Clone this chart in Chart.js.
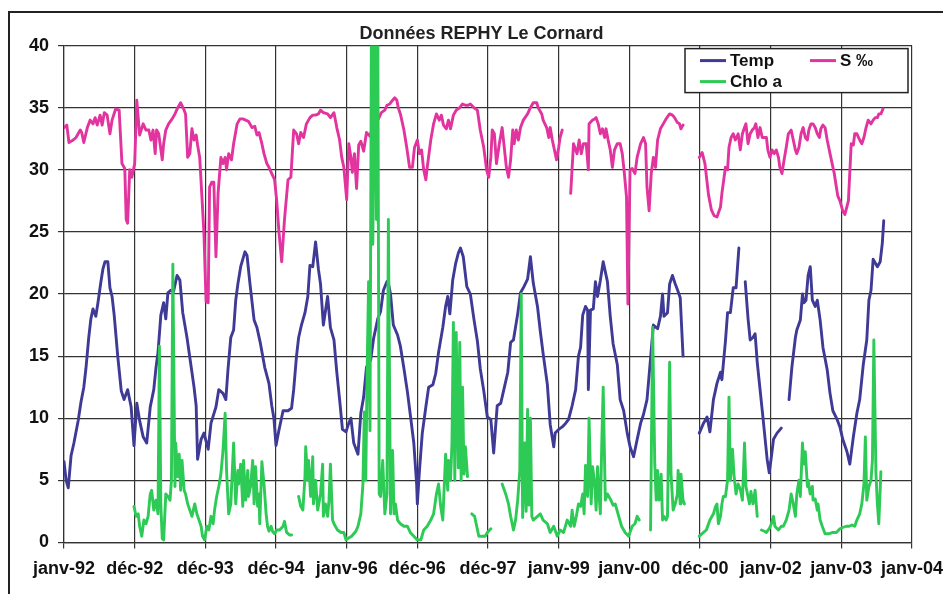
<!DOCTYPE html>
<html>
<head>
<meta charset="utf-8">
<script src="https://cdn.jsdelivr.net/npm/chart.js@4.4.1/dist/chart.umd.min.js"></script>
<style>
  html, body { margin: 0; padding: 0; background: #ffffff; }
  #wrap { width: 943px; height: 594px; }
</style>
</head>
<body>
<div id="wrap"><canvas id="chart" width="943" height="594"></canvas></div>
<script>
// ---- Chart text ----
const chartTitle = 'Données REPHY Le Cornard';
const xTickLabels = ['janv-92', 'déc-92', 'déc-93', 'déc-94', 'janv-96', 'déc-96', 'déc-97',
                     'janv-99', 'janv-00', 'déc-00', 'janv-02', 'janv-03', 'janv-04'];
const seriesNames = ['Temp', 'S ‰', 'Chlo a'];

// ---- Water temperature (°C); dates in decimal years, null = no sample ----
const tempDates = [1992.00,1992.03,1992.06,1992.10,1992.14,1992.20,1992.24,1992.28,1992.31,1992.35,1992.38,1992.41,1992.45,1992.48,1992.52,1992.55,1992.58,1992.62,1992.65,1992.68,1992.71,1992.76,1992.81,1992.85,1992.90,1992.95,1992.99,
  1993.03,1993.07,1993.12,1993.17,1993.22,1993.27,1993.30,1993.33,1993.37,1993.41,1993.44,1993.47,1993.51,1993.55,1993.60,1993.64,1993.68,1993.74,1993.80,1993.84,1993.87,1993.89,1993.94,1993.98,
  1994.04,1994.08,1994.15,1994.19,1994.25,1994.29,1994.32,1994.36,1994.40,1994.43,1994.46,1994.50,1994.56,1994.59,1994.63,1994.69,1994.73,1994.78,1994.84,1994.90,1994.94,1994.97,
  1995.00,1995.04,1995.10,1995.17,1995.22,1995.25,1995.29,1995.32,1995.36,1995.41,1995.45,1995.48,1995.52,1995.56,1995.60,1995.63,1995.67,1995.73,1995.77,1995.82,1995.86,1995.90,1995.94,1995.99,
  1996.03,1996.06,1996.10,1996.16,1996.20,1996.24,1996.28,1996.34,1996.38,1996.44,1996.48,1996.52,1996.57,1996.59,1996.62,1996.66,1996.72,1996.76,1996.81,1996.86,1996.90,1996.95,1996.99,
  1997.00,1997.03,1997.07,1997.12,1997.16,1997.22,1997.26,1997.30,1997.36,1997.40,1997.43,1997.46,1997.50,1997.54,1997.58,1997.61,1997.65,1997.70,1997.75,1997.80,1997.85,1997.89,1997.94,1997.99,
  1998.04,1998.08,1998.13,1998.18,1998.22,1998.28,1998.32,1998.36,1998.42,1998.46,1998.50,1998.56,1998.60,1998.64,1998.70,1998.74,1998.78,1998.84,1998.88,1998.93,1998.95,
  1999.00,1999.05,1999.10,1999.14,1999.19,1999.24,1999.28,1999.31,1999.34,1999.38,1999.41,1999.42,1999.45,1999.49,1999.52,1999.55,1999.59,1999.63,1999.69,1999.73,1999.77,1999.83,1999.87,1999.92,1999.97,
  2000.01,2000.06,2000.10,2000.16,2000.20,2000.25,2000.30,2000.34,2000.40,2000.44,2000.47,2000.49,2000.54,2000.57,2000.61,2000.65,2000.69,2000.72,2000.76,2000.88,2000.99,
  2001.05,2001.10,2001.14,2001.19,2001.24,2001.29,2001.31,2001.36,2001.39,2001.43,2001.47,2001.51,2001.55,2001.60,2001.64,2001.68,2001.71,2001.75,2001.78,2001.81,2001.85,2001.89,2001.95,2001.98,
  2002.01,2002.04,2002.09,2002.15,2002.20,2002.26,2002.30,2002.35,2002.37,2002.42,2002.45,2002.47,2002.50,2002.53,2002.56,2002.59,2002.63,2002.66,2002.70,2002.74,2002.80,2002.84,2002.88,2002.94,2002.98,
  2003.02,2003.08,2003.12,2003.17,2003.22,2003.26,2003.31,2003.36,2003.39,2003.42,2003.45,2003.51,2003.55,2003.58,2003.60];
const tempValues = [6.5,5.0,4.4,7.0,8.0,9.8,11.3,12.5,14.0,16.5,18.0,18.8,18.2,19.3,20.9,22.0,22.6,22.6,20.5,19.8,18.3,15.0,12.2,11.5,12.3,10.9,7.8,
  11.2,9.8,8.5,8.0,10.9,12.3,14.0,15.3,18.3,19.3,18.0,20.1,20.3,20.2,21.5,21.1,18.5,16.5,14.1,12.5,11.0,6.7,8.3,8.8,
  7.5,9.6,10.9,12.3,12.0,11.5,13.9,16.5,17.1,19.5,20.8,22.2,23.4,23.1,20.9,17.9,17.3,16.0,14.1,12.8,11.0,10.0,
  7.8,9.0,10.6,10.6,10.8,12.3,15.0,16.5,17.5,18.5,19.8,22.3,22.2,24.2,22.0,20.8,17.5,19.8,17.3,16.3,13.7,11.5,9.1,8.9,
  9.6,10.0,8.0,7.1,10.4,11.7,14.1,14.7,16.4,18.0,18.6,20.3,21.0,20.9,20.0,17.5,16.7,15.8,14.0,12.1,10.3,8.0,4.7,
  3.1,5.8,8.8,10.9,12.5,12.7,13.6,15.3,17.3,19.0,19.8,18.4,21.1,22.4,23.3,23.7,23.0,20.6,20.0,18.0,16.2,14.0,12.2,10.1,
  9.9,7.2,11.0,11.2,12.2,13.7,16.1,16.3,18.4,20.1,20.5,21.2,23.0,20.9,19.0,17.0,15.2,12.7,9.5,7.7,8.8,
  9.1,9.3,9.6,9.9,11.0,12.3,15.0,15.7,18.3,19.0,18.7,12.3,18.7,18.8,21.0,19.8,21.1,22.6,21.0,18.2,16.0,14.3,11.5,10.6,8.8,
  7.7,6.9,8.0,9.6,10.3,11.5,14.8,17.5,17.2,18.2,20.0,18.2,18.5,20.8,21.5,20.8,20.2,19.7,15.0,null,8.8,
  9.6,10.1,8.9,11.5,12.8,13.7,13.1,16.2,18.5,18.5,20.5,20.5,23.7,null,21.0,18.0,16.3,16.5,16.8,14.5,12.3,10.1,6.7,5.6,
  6.9,8.3,8.8,9.2,null,11.5,14.1,16.5,17.1,17.9,20.0,19.3,19.5,21.5,22.2,19.5,19.0,19.5,17.9,15.7,13.9,12.0,10.6,9.9,9.3,
  8.3,7.3,6.3,8.5,10.4,11.5,14.3,16.3,19.5,20.3,22.8,22.2,22.6,24.1,25.9];

// ---- Salinity (‰) ----
const salDates = [1992.00,1992.04,1992.07,1992.13,1992.17,1992.23,1992.25,1992.28,1992.33,1992.37,1992.41,1992.44,1992.47,1992.51,1992.54,1992.57,1992.61,1992.65,1992.68,1992.73,1992.78,1992.82,1992.86,1992.88,1992.90,1992.93,1992.96,
  1993.00,1993.03,1993.07,1993.12,1993.16,1993.20,1993.23,1993.26,1993.29,1993.31,1993.34,1993.39,1993.41,1993.44,1993.48,1993.53,1993.57,1993.61,1993.65,1993.70,1993.72,1993.75,1993.78,1993.81,1993.84,1993.87,1993.89,1993.92,1993.95,1993.98,
  1994.01,1994.04,1994.06,1994.09,1994.12,1994.15,1994.18,1994.22,1994.25,1994.28,1994.30,1994.33,1994.37,1994.40,1994.45,1994.49,1994.53,1994.57,1994.61,1994.66,1994.70,1994.73,1994.76,1994.80,1994.83,1994.87,1994.90,1994.94,1994.98,
  1995.01,1995.04,1995.08,1995.12,1995.17,1995.21,1995.25,1995.29,1995.32,1995.35,1995.39,1995.43,1995.48,1995.52,1995.56,1995.60,1995.63,1995.67,1995.73,1995.77,1995.82,1995.86,1995.90,1995.93,1995.96,
  1996.00,1996.03,1996.06,1996.08,1996.11,1996.14,1996.17,1996.20,1996.24,1996.28,1996.33,1996.37,1996.41,1996.45,1996.49,1996.54,1996.57,1996.61,1996.65,1996.68,1996.71,1996.73,1996.76,1996.81,1996.85,1996.89,1996.93,1996.96,
  1997.00,1997.03,1997.06,1997.09,1997.12,1997.14,1997.19,1997.23,1997.27,1997.31,1997.34,1997.37,1997.41,1997.44,1997.47,1997.51,1997.55,1997.60,1997.64,1997.68,1997.72,1997.75,1997.80,1997.85,1997.89,1997.94,1997.98,
  1998.01,1998.04,1998.06,1998.09,1998.12,1998.16,1998.20,1998.23,1998.26,1998.29,1998.32,1998.35,1998.37,1998.40,1998.43,1998.46,1998.50,1998.56,1998.60,1998.64,1998.69,1998.71,1998.76,1998.78,1998.83,1998.86,1998.88,1998.91,1998.94,1998.97,
  1999.00,1999.02,1999.05,1999.11,1999.17,1999.21,1999.26,1999.29,1999.32,1999.35,1999.39,1999.42,1999.43,1999.48,1999.51,1999.53,1999.56,1999.59,1999.62,1999.65,1999.67,1999.70,1999.73,1999.76,1999.79,1999.83,1999.87,1999.90,1999.93,1999.96,1999.98,
  2000.01,2000.04,2000.08,2000.11,2000.16,2000.20,2000.23,2000.25,2000.28,2000.31,2000.34,2000.37,2000.40,2000.44,2000.48,2000.52,2000.57,2000.61,2000.64,2000.68,2000.71,2000.73,2000.76,2000.88,2000.99,
  2001.03,2001.07,2001.12,2001.16,2001.20,2001.24,2001.29,2001.31,2001.36,2001.39,2001.41,2001.44,2001.47,2001.50,2001.54,2001.57,2001.60,2001.63,2001.65,2001.68,2001.71,2001.74,2001.77,2001.79,2001.82,2001.85,2001.88,2001.91,2001.94,2001.96,2001.99,
  2002.02,2002.05,2002.08,2002.11,2002.13,2002.16,2002.19,2002.22,2002.25,2002.29,2002.32,2002.35,2002.37,2002.40,2002.43,2002.46,2002.49,2002.52,2002.54,2002.57,2002.60,2002.63,2002.66,2002.69,2002.71,2002.74,2002.77,2002.80,2002.84,2002.87,2002.90,2002.93,2002.95,2002.98,
  2003.02,2003.05,2003.10,2003.14,2003.17,2003.19,2003.22,2003.26,2003.29,2003.32,2003.35,2003.38,2003.42,2003.45,2003.48,2003.51,2003.53,2003.56,2003.59];
const salValues = [33.4,33.6,32.2,32.4,32.6,33.2,33.0,32.2,33.4,34.0,33.7,34.2,33.6,34.4,33.6,34.6,34.4,32.9,34.0,34.9,34.8,30.5,30.1,26.0,25.7,30.0,29.4,
  30.5,35.6,32.8,33.7,33.2,33.2,32.4,33.2,31.3,33.2,32.9,30.8,32.1,33.2,33.7,34.1,34.5,35.0,35.4,34.8,34.5,31.0,31.3,33.3,32.4,32.8,32.0,31.0,28.0,24.9,
  19.4,19.3,28.6,29.0,29.0,23.0,28.1,31.0,30.5,31.0,30.0,31.3,30.8,32.1,33.7,34.1,34.1,34.0,33.9,33.4,33.5,32.8,33.0,32.1,31.3,30.5,30.2,29.7,29.2,
  27.5,25.1,22.6,26.0,29.2,29.4,33.2,32.9,32.1,33.0,32.6,33.7,34.2,34.4,34.4,34.5,34.8,34.6,34.5,34.2,34.6,33.4,32.4,31.0,30.2,
  27.6,32.1,31.0,29.8,31.3,28.5,32.0,32.3,31.5,33.0,32.7,33.5,33.8,34.1,34.6,34.8,35.2,35.3,35.6,35.8,35.6,35.0,34.5,33.2,31.8,30.2,30.2,31.8,
  32.4,31.3,31.6,30.0,29.2,30.2,32.4,33.7,34.5,34.0,34.4,33.6,33.3,34.0,33.3,34.4,34.8,35.0,35.3,35.2,35.2,35.3,35.0,34.8,33.2,31.8,30.0,
  29.4,31.0,33.2,32.9,30.5,32.1,33.4,31.8,30.2,29.4,30.8,33.2,32.1,33.2,32.4,33.4,34.0,34.5,35.0,35.4,35.4,35.0,34.5,34.0,33.4,32.6,33.4,32.4,31.6,30.8,
  31.8,32.6,33.2,null,28.1,32.1,31.3,32.4,31.3,32.1,32.1,30.0,33.7,34.0,34.1,34.2,33.7,32.9,33.3,32.6,33.3,32.4,31.6,30.2,31.6,32.1,32.1,31.3,29.7,27.8,19.2,
  30.0,30.1,29.7,31.0,32.1,32.6,32.1,28.6,26.7,29.7,31.0,30.2,32.4,33.3,33.7,34.1,34.5,34.4,34.2,33.8,33.7,33.3,33.6,null,31.0,
  31.4,30.5,28.0,26.8,26.3,26.2,27.0,28.1,30.2,30.0,31.8,32.6,32.9,32.4,32.9,31.6,32.9,33.4,33.7,32.1,32.9,33.2,33.4,33.7,32.6,33.4,32.6,32.6,32.6,31.6,31.0,
  31.6,31.3,31.6,31.0,30.2,29.7,30.8,31.8,32.9,33.2,32.4,31.6,31.3,31.8,32.9,33.4,32.6,32.4,33.2,33.7,33.7,33.4,32.9,32.6,33.3,33.6,33.4,32.4,31.3,30.5,29.7,28.6,27.9,27.5,
  26.7,26.4,27.5,32.1,32.0,32.9,32.9,32.4,32.1,32.6,33.4,34.0,33.7,34.0,34.2,34.2,34.5,34.5,34.9];

// ---- Chlorophyll a (µg/l) ----
const chloDates = [1992.99,1993.02,1993.05,1993.07,1993.10,1993.13,1993.16,1993.19,1993.22,1993.24,1993.27,1993.30,1993.33,1993.35,1993.37,1993.39,1993.41,1993.44,1993.47,1993.50,1993.52,1993.54,1993.57,1993.58,1993.61,1993.63,1993.65,1993.67,1993.70,1993.72,1993.75,1993.78,1993.81,1993.85,1993.88,1993.91,1993.94,1993.96,1993.99,
  1994.02,1994.05,1994.08,1994.11,1994.13,1994.16,1994.19,1994.22,1994.25,1994.28,1994.30,1994.33,1994.36,1994.40,1994.43,1994.46,1994.47,1994.50,1994.53,1994.54,1994.57,1994.60,1994.61,1994.64,1994.67,1994.69,1994.71,1994.74,1994.76,1994.77,1994.80,1994.83,1994.86,1994.88,1994.90,1994.93,1994.95,1994.98,
  1995.01,1995.05,1995.10,1995.12,1995.15,1995.19,1995.22,1995.27,1995.32,1995.35,1995.38,1995.41,1995.42,1995.45,1995.46,1995.49,1995.52,1995.53,1995.56,1995.59,1995.63,1995.66,1995.67,1995.70,1995.73,1995.75,1995.77,1995.80,1995.82,1995.87,1995.92,1995.96,1995.99,
  1996.01,1996.07,1996.13,1996.16,1996.20,1996.23,1996.25,1996.27,1996.29,1996.31,1996.33,1996.35,1996.37,1996.40,1996.42,1996.44,1996.46,1996.48,1996.51,1996.54,1996.57,1996.59,1996.62,1996.65,1996.67,1996.69,1996.72,1996.76,1996.81,1996.86,1996.90,1996.95,
  1997.00,1997.05,1997.09,1997.14,1997.19,1997.23,1997.27,1997.30,1997.33,1997.36,1997.37,1997.40,1997.43,1997.44,1997.47,1997.49,1997.51,1997.53,1997.55,1997.58,1997.60,1997.62,1997.64,1997.66,1997.68,1997.71,1997.74,1997.77,1997.81,1997.84,1997.87,1997.92,1997.96,1997.99,
  1998.04,1998.12,1998.20,1998.25,1998.29,1998.32,1998.36,1998.39,1998.42,1998.45,1998.47,1998.49,1998.52,1998.54,1998.56,1998.58,1998.60,1998.62,1998.64,1998.70,1998.74,1998.78,1998.84,1998.88,1998.93,1998.98,
  1999.02,1999.07,1999.12,1999.17,1999.19,1999.22,1999.25,1999.28,1999.31,1999.34,1999.36,1999.38,1999.41,1999.43,1999.46,1999.48,1999.51,1999.53,1999.55,1999.57,1999.59,1999.61,1999.63,1999.66,1999.69,1999.73,1999.77,1999.80,1999.84,1999.89,1999.94,1999.99,
  2000.04,2000.08,2000.11,2000.14,2000.22,2000.30,2000.33,2000.36,2000.38,2000.40,2000.42,2000.45,2000.47,2000.49,2000.52,2000.54,2000.57,2000.59,2000.62,2000.65,2000.68,2000.69,2000.72,2000.73,2000.76,2000.78,2000.88,2000.99,
  2001.05,2001.09,2001.14,2001.19,2001.22,2001.24,2001.26,2001.29,2001.31,2001.33,2001.36,2001.39,2001.41,2001.43,2001.46,2001.48,2001.51,2001.54,2001.57,2001.60,2001.63,2001.65,2001.70,2001.72,2001.75,2001.78,2001.81,2001.84,2001.87,2001.91,2001.94,2001.98,
  2002.01,2002.04,2002.06,2002.11,2002.15,2002.18,2002.22,2002.26,2002.29,2002.32,2002.35,2002.37,2002.40,2002.42,2002.45,2002.47,2002.49,2002.52,2002.53,2002.56,2002.59,2002.60,2002.63,2002.66,2002.67,2002.70,2002.73,2002.77,2002.83,2002.88,2002.93,2002.98,
  2003.02,2003.07,2003.11,2003.15,2003.19,2003.22,2003.26,2003.29,2003.32,2003.34,2003.36,2003.39,2003.42,2003.44,2003.46,2003.49,2003.51,2003.53,2003.56];
const chloValues = [2.9,2.1,2.3,1.3,0.5,1.8,1.5,2.1,3.9,4.2,2.6,3.4,2.3,15.8,3.0,0.3,0.2,3.9,3.7,3.4,5.0,22.4,4.5,8.0,5.3,7.1,4.2,6.6,4.2,3.9,3.1,2.6,2.1,3.1,2.3,1.8,1.3,0.5,0.2,
  1.3,1.0,2.1,1.5,2.6,3.7,4.5,5.5,7.4,10.4,5.8,2.3,3.1,8.0,3.1,5.8,4.7,6.3,2.9,6.6,3.4,5.8,3.7,4.5,6.6,3.1,6.1,2.9,3.9,1.5,6.5,4.7,2.3,1.3,0.9,1.3,0.9,0.7,
  1.0,1.0,1.3,1.7,0.8,0.6,0.6,null,3.7,2.9,2.6,5.3,7.7,5.0,6.6,3.7,6.9,3.1,5.0,2.6,3.9,6.3,2.1,3.1,2.1,3.4,6.3,1.8,1.5,1.0,0.8,0.8,0.2,
  0.3,0.5,0.9,1.3,2.3,4.7,10.5,5.0,14.0,21.0,9.0,42.0,24.0,45.0,26.0,42.0,3.9,3.7,6.6,2.3,3.9,26.0,2.3,7.4,2.3,3.1,1.8,1.5,1.3,1.3,0.8,0.5,
  0.2,0.2,1.0,1.3,1.8,2.3,3.9,4.7,2.9,1.8,3.1,7.1,4.2,6.6,5.0,8.0,17.7,5.0,16.9,6.0,16.1,5.0,12.5,5.5,7.7,5.3,null,2.3,2.1,1.3,0.5,0.5,0.5,0.8,
  1.1,null,4.7,3.9,3.1,2.1,1.0,1.8,3.4,5.8,20.0,2.0,8.0,2.5,10.7,3.0,10.0,2.1,1.8,2.1,2.3,1.8,1.5,0.8,1.3,0.5,
  1.0,0.8,1.8,1.3,2.6,1.3,2.1,3.1,2.9,3.9,2.3,6.2,3.7,10.0,3.1,6.1,4.7,2.6,6.1,3.9,2.3,8.0,12.5,3.4,3.9,3.5,3.0,3.1,2.3,1.3,0.8,0.5,
  1.3,1.5,2.1,1.8,null,1.0,17.3,6.3,3.4,5.8,3.4,5.5,1.8,2.1,1.8,2.1,14.5,5.5,2.6,3.1,3.9,5.8,3.1,5.5,3.4,3.1,null,0.5,
  0.8,1.0,1.8,2.3,2.9,3.1,1.5,2.1,3.1,3.7,3.7,5.0,11.7,5.0,7.5,5.5,3.9,4.7,4.3,3.4,8.0,4.5,3.1,4.1,3.1,4.2,2.1,null,1.0,0.9,0.8,1.1,
  1.5,2.1,1.3,1.0,1.3,1.3,1.8,2.6,3.9,3.1,2.1,3.9,5.0,3.7,8.0,6.3,7.3,4.5,5.0,3.9,4.5,3.4,3.5,2.6,3.1,1.8,1.3,0.7,0.7,0.8,0.8,1.1,
  1.2,1.3,1.3,1.4,1.3,1.8,2.3,3.1,4.7,8.5,3.4,4.5,5.0,6.6,16.3,5.5,3.1,1.5,5.7];

// ---- Colours ----
const seriesColors = ['#3e3a96', '#e2349e', '#2dca55'];

const FONT = "'Liberation Sans', Arial, Helvetica, sans-serif";

function toPoints(dates, values) {
  return dates.map((d, i) => ({ x: d, y: values[i] }));
}

// White background and the outer frame of the chart object
const framePlugin = {
  id: 'frame',
  beforeDraw(chart) {
    const ctx = chart.ctx;
    ctx.save();
    ctx.fillStyle = '#ffffff';
    ctx.fillRect(0, 0, chart.width, chart.height);
    ctx.strokeStyle = '#222222';
    ctx.lineWidth = 2;
    ctx.strokeRect(9, 12, chart.width + 50, chart.height + 50);
    ctx.restore();
  }
};

// Boxed legend placed in the upper right corner of the plot
const boxLegendPlugin = {
  id: 'boxLegend',
  afterDraw(chart) {
    const ctx = chart.ctx;
    const area = chart.chartArea;
    const w = 223, h = 44;
    const left = area.right - 4 - w;
    const top = area.top + 3;
    ctx.save();
    ctx.fillStyle = '#ffffff';
    ctx.fillRect(left, top, w, h);
    ctx.strokeStyle = '#222222';
    ctx.lineWidth = 1.5;
    ctx.strokeRect(left, top, w, h);
    const slots = [
      { dx: 15, dy: 12 },   // first column, first row
      { dx: 125, dy: 12 },  // second column, first row
      { dx: 15, dy: 33 }    // first column, second row
    ];
    ctx.font = 'bold 17px ' + FONT;
    ctx.textBaseline = 'middle';
    ctx.textAlign = 'left';
    chart.data.datasets.forEach((ds, i) => {
      const s = slots[i];
      const y = top + s.dy;
      ctx.strokeStyle = ds.borderColor;
      ctx.lineWidth = 3;
      ctx.beginPath();
      ctx.moveTo(left + s.dx, y);
      ctx.lineTo(left + s.dx + 26, y);
      ctx.stroke();
      ctx.fillStyle = '#111111';
      ctx.fillText(ds.label, left + s.dx + 30, y + 1);
    });
    ctx.restore();
  }
};

const gridStyle = { color: '#333333', lineWidth: 1.2, tickLength: 6, drawTicks: true };

new Chart(document.getElementById('chart'), {
  type: 'line',
  data: {
    datasets: [
      { label: seriesNames[0], data: toPoints(tempDates, tempValues), borderColor: seriesColors[0], order: 3 },
      { label: seriesNames[1], data: toPoints(salDates, salValues), borderColor: seriesColors[1], order: 2 },
      { label: seriesNames[2], data: toPoints(chloDates, chloValues), borderColor: seriesColors[2], order: 1 }
    ]
  },
  options: {
    responsive: false,
    animation: false,
    devicePixelRatio: 1,
    parsing: false,
    spanGaps: false,
    elements: {
      line: { borderWidth: 2.9, tension: 0, borderJoinStyle: 'round', borderCapStyle: 'round', fill: false },
      point: { radius: 0, hoverRadius: 0 }
    },
    layout: { padding: { left: 20, right: 0, top: 12, bottom: 4 } },
    plugins: {
      legend: { display: false },
      tooltip: { enabled: false },
      title: {
        display: true,
        text: chartTitle,
        color: '#222222',
        font: { family: FONT, size: 18, weight: 'bold' },
        padding: { top: 11, bottom: 1 }
      }
    },
    scales: {
      x: {
        type: 'linear',
        min: 1992,
        max: 2004,
        afterFit: (scale) => { scale.paddingRight = 31; },
        ticks: {
          stepSize: 1,
          autoSkip: false,
          maxRotation: 0,
          padding: 10,
          color: '#111111',
          font: { family: FONT, size: 18, weight: 'bold' },
          callback: (value, index) => xTickLabels[index]
        },
        grid: gridStyle,
        border: { color: '#333333', width: 1.2 }
      },
      y: {
        min: 0,
        max: 40,
        ticks: {
          stepSize: 5,
          padding: 9,
          color: '#111111',
          font: { family: FONT, size: 18, weight: 'bold' }
        },
        grid: gridStyle,
        border: { color: '#333333', width: 1.2 }
      }
    }
  },
  plugins: [framePlugin, boxLegendPlugin]
});
</script>
</body>
</html>
